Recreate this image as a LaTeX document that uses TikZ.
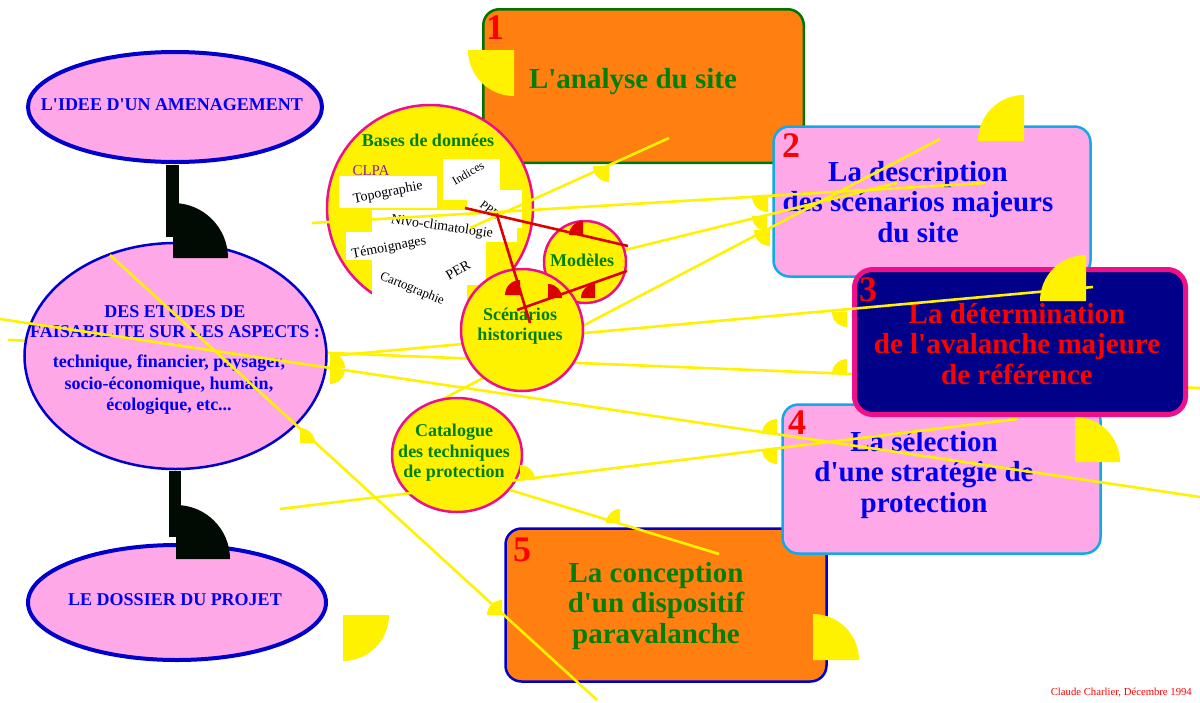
\documentclass[tikz,border=0pt]{standalone}
\usepackage{fontspec}
\setmainfont{Liberation Serif}[Ligatures=TeXOff]
\definecolor{pinkf}{RGB}{255,168,232}
\definecolor{bluet}{RGB}{0,0,240}
\definecolor{blueb}{RGB}{0,0,204}
\definecolor{orangef}{RGB}{255,128,16}
\definecolor{greent}{RGB}{0,128,0}
\definecolor{greenb}{RGB}{0,115,0}
\definecolor{yel}{RGB}{255,242,0}
\definecolor{mag}{RGB}{238,16,136}
\definecolor{lblue}{RGB}{16,170,230}
\definecolor{navyf}{RGB}{0,0,136}
\definecolor{dred}{RGB}{221,0,0}
\definecolor{blk}{RGB}{2,10,4}
\definecolor{purp}{RGB}{140,30,160}
\newcommand\qd[5]{\fill[#5] (#1,#2) -- ++(#4:#3) arc[start angle=#4, delta angle=90, radius=#3] -- cycle;}
\begin{document}
\begin{tikzpicture}[x=1pt,y=-1pt,
  bigtxt/.style={font=\bfseries\fontsize{29}{30.5}\selectfont, align=center, inner sep=0},
  smtxt/.style={font=\bfseries\fontsize{18}{20.5}\selectfont, align=center, inner sep=0},
  numtxt/.style={font=\bfseries\fontsize{36}{36}\selectfont, text=red, inner sep=0},
  yline/.style={draw=yel, line width=2.6pt},
  rline/.style={draw=dred, line width=2.6pt},
  scan/.style={font=\fontsize{14}{14}\selectfont, inner sep=0, text=black},
  circ/.style={draw=mag, line width=2.5pt, fill=yel}]
\useasboundingbox (0,0) rectangle (1200,702);
\fill[white] (0,0) rectangle (1200,702);

% line under the shapes
\coordinate (e1) at (8,340); \coordinate (e2) at (1200,388);
\draw[yline] (e1) -- (e2);

% boxes
\draw[draw=greenb, line width=2.5pt, fill=orangef, rounded corners=16pt] (483.25,9.25) rectangle (803.75,162.75);
\node[numtxt] (n1) at (495,28) {1};
\node[bigtxt, text=greent] (t1) at (633,82) {L'analyse du site};

\draw[draw=blueb, line width=2.5pt, fill=orangef, rounded corners=16pt] (505.5,528.5) rectangle (826.5,681.5);
\node[numtxt] (n5) at (522,550) {5};
\node[bigtxt, text=greent] (t5) at (656,606) {La conception\\d'un dispositif\\paravalanche};

\draw[draw=lblue, line width=2.5pt, fill=pinkf, rounded corners=16pt] (782.5,404.5) rectangle (1100.5,553.5);
\node[numtxt] (n4) at (797,423) {4};
\node[bigtxt, text=bluet] (t4) at (924,475) {La sélection\\d'une stratégie de\\protection};

\draw[draw=lblue, line width=2.5pt, fill=pinkf, rounded corners=16pt] (773.5,126.5) rectangle (1090.5,276.5);
\node[numtxt] (n2) at (791,146) {2};
\node[bigtxt, text=bluet] (t2) at (918,202) {La description\\des scénarios majeurs\\du site};

\draw[draw=mag, line width=5pt, fill=navyf, rounded corners=18pt] (854.5,269.5) rectangle (1185.5,414.5);
\node[numtxt] (n3) at (868,290) {3};
\node[bigtxt, text=red] (t3) at (1017,344) {La détermination\\de l'avalanche majeure\\de référence};

% ellipses
\draw[draw=blueb, line width=4pt, fill=pinkf] (175,107) ellipse [x radius=147, y radius=55];
\node[smtxt, text=bluet] (idee) at (172,105) {L'IDEE D'UN AMENAGEMENT};
\draw[draw=blueb, line width=2.5pt, fill=pinkf] (175.5,356) ellipse [x radius=151, y radius=113];
\node[font=\bfseries\fontsize{18}{20}\selectfont, align=center, inner sep=0, text=bluet] (etudes) at (175,322) {DES ETUDES DE\\FAISABILITE SUR LES ASPECTS :};
\node[font=\bfseries\fontsize{18}{21.5}\selectfont, align=center, inner sep=0, text=bluet] (aspects) at (169,385) {technique, financier, paysager,\\socio-économique, humain,\\écologique, etc...};
\draw[draw=blueb, line width=4pt, fill=pinkf] (177,602.5) ellipse [x radius=149, y radius=57.5];
\node[smtxt, text=bluet] (dossier) at (175,600) {LE DOSSIER DU PROJET};

% lines under the circles
\coordinate (s1) at (330,356); \coordinate (s2) at (1093,287);
\draw[yline] (s1) -- (s2);
\coordinate (d1) at (443,399); \coordinate (d2) at (940,139);
\draw[yline] (d1) -- (d2);
\coordinate (c1) at (625,250); \coordinate (c2) at (897,183);
\draw[yline] (c1) -- (c2);

% circles
\draw[circ] (430,208) circle [radius=103];
\fill[white] (339,176) rectangle (437,208);
\fill[white] (443,159) rectangle (500,200);
\fill[white] (467,190) rectangle (522,228);
\fill[white] (372,210) rectangle (517,242);
\fill[white] (346,232) rectangle (440,260);
\fill[white] (440,242) rectangle (486,285);
\fill[white] (372,257) rectangle (467,313);
\node[scan, rotate=11] (topo) at (388,193) {Topographie};
\node[scan, font=\fontsize{12}{12}\selectfont, rotate=30] (indices) at (468,173) {Indices};
\node[scan, font=\fontsize{12}{12}\selectfont, rotate=-38] (ppr) at (490,210) {PPR};
\node[scan, rotate=-8] (nivo) at (442,227) {Nivo-climatologie};
\node[scan, rotate=11] (temo) at (389,248) {Témoignages};
\node[scan, rotate=30] (per) at (458,270) {PER};
\node[scan, font=\fontsize{13}{13}\selectfont, rotate=-22] (carto) at (412,289) {Cartographie};
\node[smtxt, text=greent] (bases) at (428,140) {Bases de données};
\node[font=\fontsize{15}{15}\selectfont, text=purp, inner sep=0] (clpa) at (371,171) {CLPA};

\draw[circ] (585,262) circle [radius=41];
\node[smtxt, text=greent] (modeles) at (582,260) {Modèles};
\draw[circ] (522,330) circle [radius=61];
\node[smtxt, text=greent] (scen) at (520,326) {Scénarios\\historiques};
\draw[circ] (457,455) ellipse [x radius=65, y radius=57];
\node[smtxt, text=greent] (catal) at (454,453) {Catalogue\\des techniques\\de protection};

% lines over everything
\coordinate (a1) at (312,223); \coordinate (a2) at (985,183);
\draw[yline] (a1) -- (a2);
\coordinate (b1) at (470,228); \coordinate (b2) at (669,138);
\draw[yline] (b1) -- (b2);
\coordinate (f1) at (0,319); \coordinate (f2) at (1200,497);
\draw[yline] (f1) -- (f2);
\coordinate (g1) at (280,509); \coordinate (g2) at (1017,419);
\draw[yline] (g1) -- (g2);
\coordinate (h1) at (510,490); \coordinate (h2) at (719,554);
\draw[yline] (h1) -- (h2);
\coordinate (i1) at (110,255); \coordinate (i2) at (597,700);
\draw[yline] (i1) -- (i2);

% red lines
\coordinate (r1a) at (465,208); \coordinate (r1b) at (628,246);
\draw[rline] (r1a) -- (r1b);
\coordinate (r2a) at (497,215); \coordinate (r2b) at (530,323);
\draw[rline] (r2a) -- (r2b);
\coordinate (r3a) at (517,310); \coordinate (r3b) at (627,271);
\draw[rline] (r3a) -- (r3b);
\qd{583}{235}{14}{180}{dred}
\qd{520}{295}{15}{180}{dred}
\qd{548}{298}{14}{270}{dred}
\qd{595}{298}{14}{180}{dred}

% yellow quarter discs
\qd{514}{50}{46}{90}{yel}
\qd{1024}{141}{46}{180}{yel}
\qd{1086}{301}{46}{180}{yel}
\qd{1075}{462}{45}{270}{yel}
\qd{813}{660}{46}{270}{yel}
\qd{343}{615}{46}{0}{yel}
\qd{609}{166}{16}{90}{yel}
\qd{768}{196}{16}{90}{yel}
\qd{767}{216}{15}{90}{yel}
\qd{770}{230}{16}{90}{yel}
\qd{847}{312}{15}{90}{yel}
\qd{847}{374}{15}{180}{yel}
\qd{777}{434}{15}{180}{yel}
\qd{777}{449}{15}{90}{yel}
\qd{520}{480}{15}{270}{yel}
\qd{620}{523}{14}{180}{yel}
\qd{300}{443}{15}{270}{yel}
\qd{502}{615}{15}{180}{yel}
\qd{330}{368}{15}{270}{yel}
\qd{330}{369}{15}{0}{yel}

% black connectors
\fill[blk] (166,165) rectangle (179,237);
\qd{173}{258}{55}{270}{blk}
\fill[blk] (169,471) rectangle (181,537);
\qd{176}{559}{54}{270}{blk}

\node[font=\fontsize{10.7}{12}\selectfont, text=red, anchor=east, inner sep=0] (credit) at (1192,693) {Claude Charlier, Décembre 1994};
\end{tikzpicture}
\end{document}
